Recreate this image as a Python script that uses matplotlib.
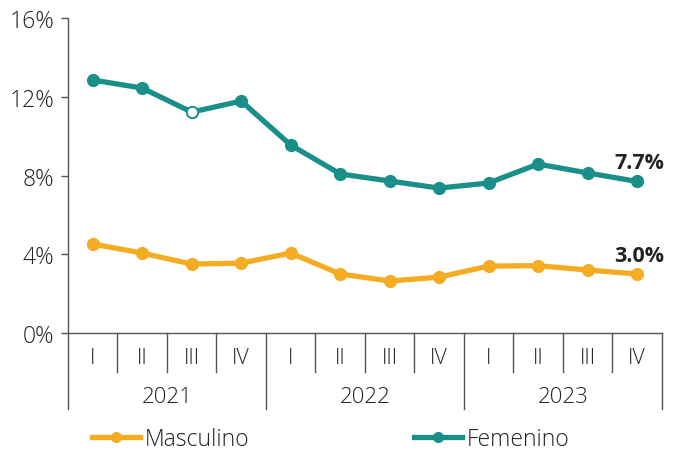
import matplotlib.pyplot as plt
from matplotlib.lines import Line2D
import numpy as np

plt.rcParams['font.family'] = ['Open Sans', 'DejaVu Sans']
plt.rcParams['font.weight'] = 'light'

quarters = ['I', 'II', 'III', 'IV'] * 3
years = ['2021', '2022', '2023']
masculino = [4.52, 4.06, 3.50, 3.55, 4.06, 3.00, 2.64, 2.84, 3.40, 3.42, 3.20, 3.00]
femenino = [12.85, 12.44, 11.22, 11.78, 9.55, 8.08, 7.72, 7.36, 7.62, 8.58, 8.13, 7.70]

orange = '#F4AC22'
teal = '#1A8F8A'
dark = '#222222'

fig = plt.figure(figsize=(6.78, 4.52), dpi=100)
ax = fig.add_axes([0.1003, 0.261, 0.8757, 0.697])

x = np.arange(len(quarters))
ax.plot(x, masculino, color=orange, lw=3.8, marker='o', ms=8.5, zorder=3)
ax.plot(x, femenino, color=teal, lw=3.8, marker='o', ms=8.5, zorder=3)
# hollow marker seen on III 2021
ax.plot(x[2], femenino[2], marker='o', ms=8, mfc='white', mec=teal, mew=1.2, zorder=4)

ax.text(x[-1] + 0.55, femenino[-1] + 0.42, '7.7%', ha='right', va='bottom',
        fontsize=15.5, fontweight='bold', color=dark)
ax.text(x[-1] + 0.55, masculino[-1] + 0.42, '3.0%', ha='right', va='bottom',
        fontsize=15.5, fontweight='bold', color=dark)

ax.set_xlim(-0.5, 11.5)
ax.set_ylim(0, 16)
ax.set_yticks([0, 4, 8, 12, 16])
ax.set_yticklabels(['0%', '4%', '8%', '12%', '16%'])
ax.tick_params(axis='y', length=5, width=1, color='#555555', labelsize=16.5,
               labelcolor=dark, pad=5)
ax.set_xticks([])

for s in ['top', 'right']:
    ax.spines[s].set_visible(False)
for s in ['left', 'bottom']:
    ax.spines[s].set_color('#555555')
    ax.spines[s].set_linewidth(1)

tr = ax.get_xaxis_transform()
for i in range(len(quarters) + 1):
    bottom = -0.241 if i % 4 == 0 else -0.124
    ax.plot([i - 0.5, i - 0.5], [0, bottom], color='#555555', lw=1,
            transform=tr, clip_on=False)
for i, q in enumerate(quarters):
    ax.text(i, -0.078, q, transform=tr, ha='center', va='center',
            fontsize=15.5, color=dark)
for j, yr in enumerate(years):
    ax.text(j * 4 + 1.5, -0.2, yr, transform=tr, ha='center', va='center',
            fontsize=16, color=dark)

handles = [Line2D([], [], color=orange, lw=3.8, marker='o', ms=7),
           Line2D([], [], color=teal, lw=3.8, marker='o', ms=7)]
fig.legend(handles, ['Masculino', 'Femenino'], loc='center left',
           bbox_to_anchor=(0.105, 0.026), ncol=2, frameon=False,
           fontsize=16.5, handlelength=2.1, handletextpad=0.2,
           columnspacing=7.2, labelcolor=dark)

fig.savefig('out.png', dpi=100)
